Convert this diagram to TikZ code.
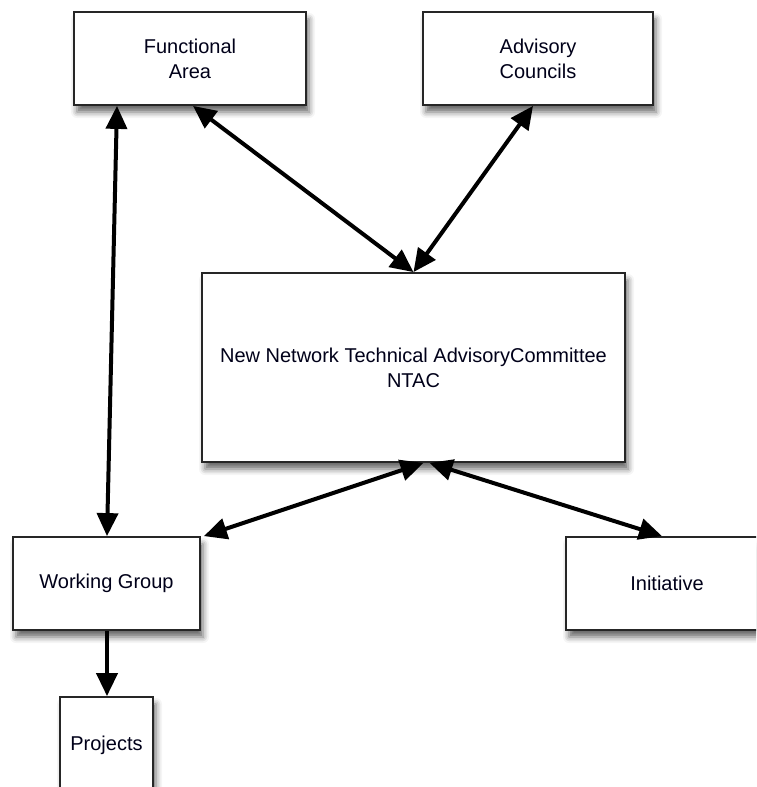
\documentclass[tikz,border=0pt]{standalone}
\usepackage{fontspec}
\setsansfont{Liberation Sans}
\usetikzlibrary{arrows.meta,shadows.blur}
\begin{document}
\begin{tikzpicture}[x=1pt,y=1pt,font=\sffamily\fontsize{20}{25}\selectfont,
        box/.style={draw=black!85, line width=1.8pt, fill=white, inner sep=0pt, align=center,
            text=black!90!blue, blur shadow={shadow xshift=3pt, shadow yshift=-7pt, shadow blur radius=6pt, shadow opacity=60}},
        link/.style={line width=4pt, {Triangle[length=23pt,width=21pt]}-{Triangle[length=23pt,width=21pt]}},
        down/.style={line width=4pt, -{Triangle[length=23pt,width=21pt]}}]
        \clip (0,0) rectangle (756,-787);

        \node[box, minimum width=232, minimum height=93] (fa) at (190,-58.5) {Functional\\Area};
        \node[box, minimum width=230, minimum height=93] (ac) at (538,-58.5) {Advisory\\Councils};
        \node[box, minimum width=423, minimum height=189] (ntac) at (413.5,-367.5) {New Network Technical AdvisoryCommittee\\NTAC};
        \node[box, minimum width=187, minimum height=93] (wg) at (106.5,-583.5) {Working Group};
        \node[box, minimum width=202, minimum height=93] (init) at (667,-583.5) {Initiative};
        \node[box, minimum width=93, minimum height=96] (proj) at (106.5,-745) {Projects};

        \draw[link] ([xshift=3pt]fa.south) -- (ntac.north);
        \draw[link] ([xshift=-5pt]ac.south) -- (ntac.north);
        \draw[link] ([xshift=-73pt]fa.south) -- ([xshift=0.5pt]wg.north);
        \draw[link] ([xshift=10pt]ntac.south) -- ([xshift=3pt]wg.north east);
        \draw[link] ([xshift=16pt]ntac.south) -- ([xshift=-5pt]init.north);
        \draw[down] ([xshift=0.5pt]wg.south) -- ([xshift=0.5pt]proj.north);
    \end{tikzpicture}
\end{document}
